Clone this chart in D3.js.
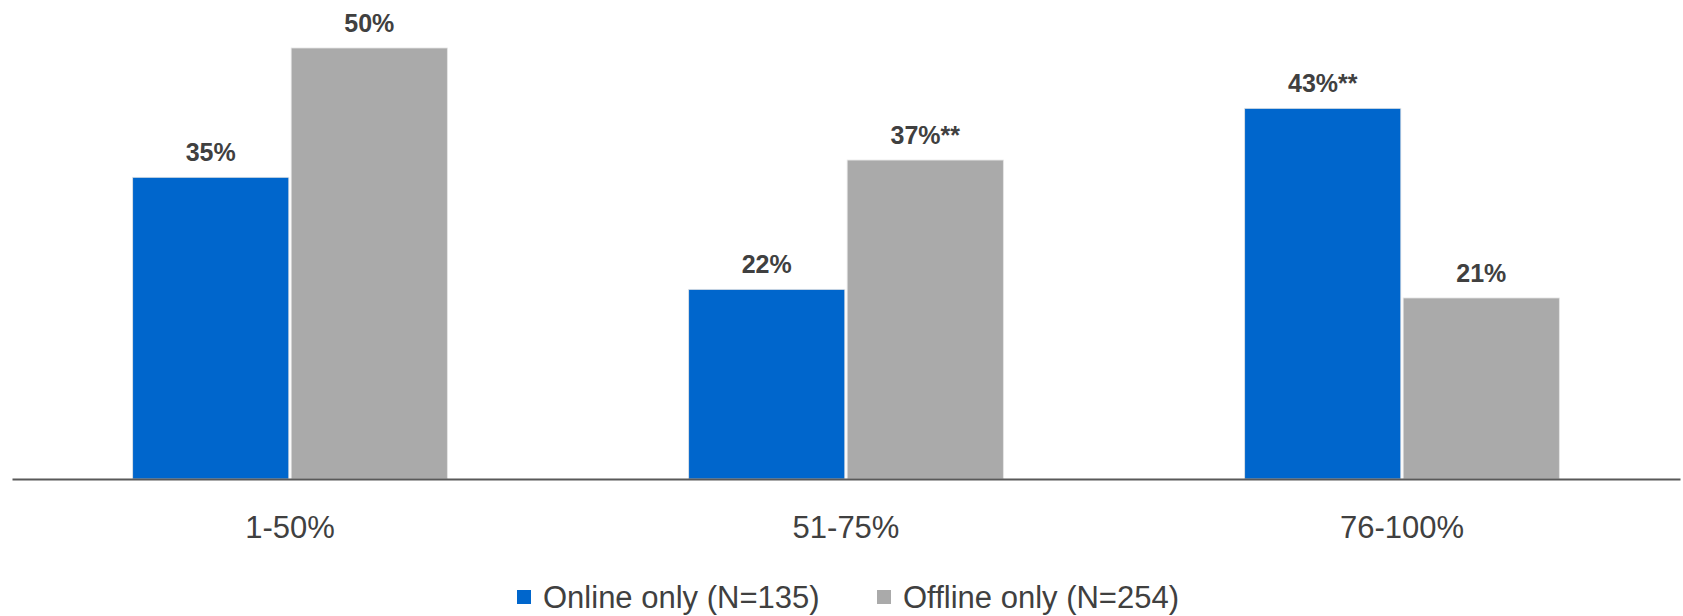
<!DOCTYPE html>
<html>
<head>
<meta charset="utf-8">
<script src="https://cdn.jsdelivr.net/npm/d3@7"></script>
<style>
  html, body { margin: 0; padding: 0; background: #ffffff; }
  svg { display: block; font-family: "Liberation Sans", Arial, sans-serif; }
</style>
</head>
<body>
<svg id="chart" width="1683" height="616"></svg>
<script>
// Share of purchases by channel group
const categories = ["1-50%", "51-75%", "76-100%"];
const seriesNames = ["Online only (N=135)", "Offline only (N=254)"];
const onlineValues = [35, 22, 43];
const offlineValues = [50, 37, 21];
const onlineLabels = ["35%", "22%", "43%**"];
const offlineLabels = ["50%", "37%**", "21%"];
const seriesColors = ["#0066CC", "#AAAAAA"];

const svg = d3.select("#chart");
const margin = { left: 12, right: 3, top: 48, baseline: 479 };
const width = 1683;

const rows = categories.map((c, i) => ({
  category: c,
  bars: [
    { key: 0, value: onlineValues[i], label: onlineLabels[i] },
    { key: 1, value: offlineValues[i], label: offlineLabels[i] }
  ]
}));

const x0 = d3.scaleBand()
  .domain(categories)
  .range([margin.left, width - margin.right])
  .paddingInner(0.434)
  .paddingOuter(0.217);

const x1 = d3.scaleBand()
  .domain([0, 1])
  .range([0, x0.bandwidth()])
  .paddingInner(0.015);

const y = d3.scaleLinear()
  .domain([0, 50])
  .range([margin.baseline, margin.top]);

const groups = svg.append("g")
  .selectAll("g")
  .data(rows)
  .join("g")
  .attr("transform", d => `translate(${x0(d.category)},0)`);

groups.selectAll("rect")
  .data(d => d.bars)
  .join("rect")
  .attr("x", d => x1(d.key))
  .attr("y", d => y(d.value))
  .attr("width", x1.bandwidth())
  .attr("height", d => y(0) - y(d.value))
  .attr("fill", d => seriesColors[d.key])
  .attr("stroke", "#e4e4e4")
  .attr("stroke-width", 0.8);

groups.selectAll("text.value")
  .data(d => d.bars)
  .join("text")
  .attr("class", "value")
  .attr("x", d => x1(d.key) + x1.bandwidth() / 2)
  .attr("y", d => y(d.value) - 16)
  .attr("text-anchor", "middle")
  .attr("font-size", 25)
  .attr("font-weight", "bold")
  .attr("fill", "#404040")
  .text(d => d.label);

// Category axis along the baseline
const xAxis = svg.append("g")
  .attr("transform", `translate(0,${margin.baseline})`)
  .call(d3.axisBottom(x0).tickSize(0).tickPadding(0));
xAxis.select(".domain")
  .attr("stroke", "#595959")
  .attr("stroke-width", 2.2);
xAxis.selectAll(".tick text")
  .attr("dy", null)
  .attr("y", 59)
  .attr("font-size", 31)
  .attr("font-family", "'Liberation Sans', Arial, sans-serif")
  .attr("fill", "#404040");

// Legend
const legendItems = [
  { name: seriesNames[0], color: seriesColors[0], x: 517 },
  { name: seriesNames[1], color: seriesColors[1], x: 877 }
];
const legend = svg.append("g")
  .selectAll("g")
  .data(legendItems)
  .join("g")
  .attr("transform", d => `translate(${d.x},0)`);
legend.append("rect")
  .attr("x", 0)
  .attr("y", 590)
  .attr("width", 14)
  .attr("height", 14)
  .attr("fill", d => d.color);
legend.append("text")
  .attr("x", 26)
  .attr("y", 608)
  .attr("font-size", 31)
  .attr("fill", "#404040")
  .text(d => d.name);
</script>
</body>
</html>
